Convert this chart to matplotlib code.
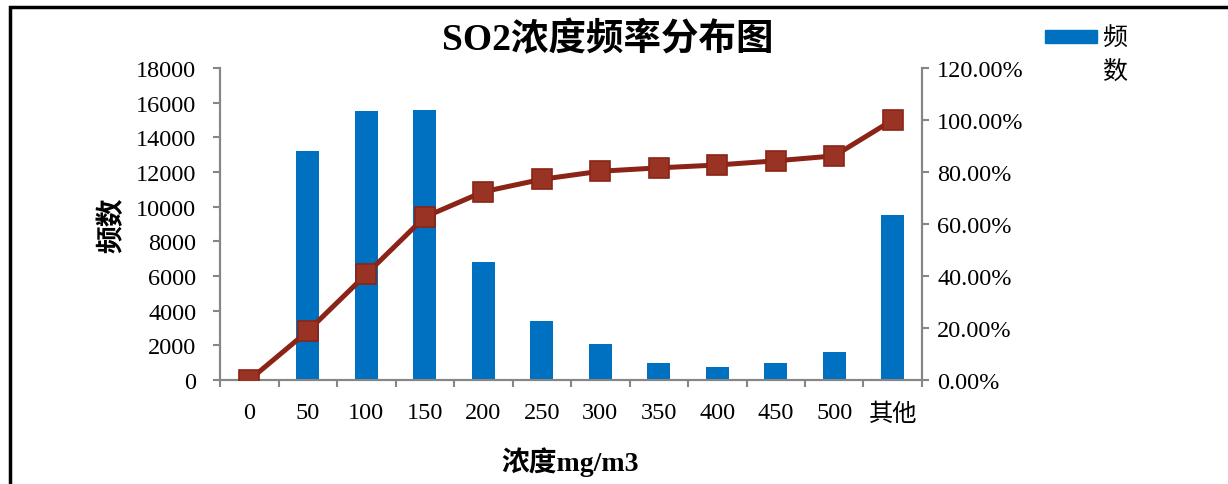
import numpy as np
import matplotlib
matplotlib.use('Agg')
import matplotlib.pyplot as plt
from matplotlib.patches import Rectangle
from matplotlib.ticker import FuncFormatter, FixedLocator

plt.rcParams['font.family'] = ['Liberation Serif', 'Noto Sans CJK SC']

# data
categories = ['0', '50', '100', '150', '200', '250', '300', '350', '400', '450', '500', '其他']
counts = [30, 13200, 15500, 15600, 6800, 3400, 2060, 1000, 730, 980, 1600, 9500]
cum_pct = [0.0, 0.188, 0.407, 0.627, 0.724, 0.772, 0.803, 0.816, 0.827, 0.843, 0.862, 1.0]

bar_color = '#0070C0'
line_color = '#8B2316'
marker_face = '#993323'
spine_color = '#868686'

fig = plt.figure(figsize=(12.28, 4.85), dpi=100)
ax = fig.add_axes([0.1792, 0.2144, 0.5716, 0.6433])
ax2 = ax.twinx()

x = np.arange(len(categories))
ax.bar(x, counts, width=0.4, color=bar_color, zorder=2)
ax2.plot(x, cum_pct, color=line_color, lw=3.6, marker='s', markersize=14,
         markerfacecolor=marker_face, markeredgecolor=line_color, markeredgewidth=1.2,
         zorder=3)

ax.set_xlim(-0.5, len(categories) - 0.5)
ax.set_ylim(0, 18000)
ax2.set_ylim(0, 1.2)
ax.set_yticks(np.arange(0, 18001, 2000))
ax2.set_yticks(np.arange(0, 1.21, 0.2))
ax2.yaxis.set_major_formatter(FuncFormatter(lambda v, p: f'{v*100:.2f}%'))

# tick marks at category boundaries, labels at centres
ax.xaxis.set_major_locator(FixedLocator(np.arange(-0.5, len(categories), 1.0)))
ax.xaxis.set_minor_locator(FixedLocator(x))
ax.set_xticklabels([''] * (len(categories) + 1))
ax.set_xticklabels(categories, minor=True)
ax.tick_params(axis='x', which='minor', length=0, pad=16, labelsize=17.5)
ax.tick_params(axis='x', which='major', length=5, color=spine_color, width=1.5)
ax.tick_params(axis='y', length=5, color=spine_color, width=1.5, labelsize=17.5, pad=12)
ax2.tick_params(axis='y', length=5, color=spine_color, width=1.5, labelsize=17.5, pad=6)

for a in (ax, ax2):
    a.spines['top'].set_visible(False)
    for s in ('left', 'right', 'bottom'):
        a.spines[s].set_color(spine_color)
        a.spines[s].set_linewidth(1.5)

fig.text(0.495, 0.918, 'SO2浓度频率分布图', ha='center', va='center',
         fontsize=27, fontweight='bold')
fig.text(0.091, 0.535, '频数', ha='center', va='center', rotation=90,
         fontsize=20, fontweight='bold')
fig.text(0.464, 0.047, '浓度mg/m3', ha='center', va='center',
         fontsize=20, fontweight='bold')

# legend drawn by hand (label wraps onto two lines)
fig.patches.append(Rectangle((1045 / 1228, 1 - 44 / 485), 52 / 1228, 13 / 485,
                             transform=fig.transFigure, color=bar_color))
fig.text(1102 / 1228, 1 - 38 / 485, '频', ha='left', va='center', fontsize=18)
fig.text(1102 / 1228, 1 - 72 / 485, '数', ha='left', va='center', fontsize=18)

# outer chart frame
fig.patches.append(Rectangle((10 / 1228, -0.1), 1.2, 1 - 8 / 485 + 0.1,
                             transform=fig.transFigure, fill=False,
                             edgecolor='black', lw=2.5))

fig.savefig('out.png', dpi=100)
